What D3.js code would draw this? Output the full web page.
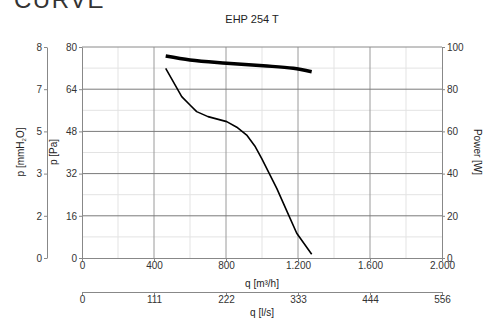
<!DOCTYPE html>
<html>
<head>
<meta charset="utf-8">
<script src="https://cdn.jsdelivr.net/npm/d3@7"></script>
<style>
  body { margin: 0; background: #fff; }
  svg { display: block; font-family: "Liberation Sans", Arial, sans-serif; }
</style>
</head>
<body>
<svg id="chart" width="483" height="318"></svg>
<script>
// data
const flowTicks = [0, 400, 800, 1200, 1600, 2000];
const flowLsLabels = ["0", "111", "222", "333", "444", "556"];
const paTicks = [0, 16, 32, 48, 64, 80];
const mmLabels = ["0", "2", "3", "5", "7", "8"];
const powerTicks = [0, 20, 40, 60, 80, 100];

const pressureQ = [465, 554, 600, 637, 700, 804, 860, 915, 960, 998, 1082, 1140, 1193, 1276];
const pressureP = [71.9, 61.2, 58, 55.5, 53.6, 51.7, 49.6, 46.6, 42.5, 37.8, 26.4, 17.5, 9.4, 1.4];
const powerQ = [465, 600, 804, 1007, 1174, 1276];
const powerW = [95.7, 93.8, 92.3, 91.1, 89.9, 88.3];

const svg = d3.select("#chart");
const plotL = 82, plotR = 442, plotT = 47, plotB = 258;

const x = d3.scaleLinear().domain([0, 2000]).range([plotL, plotR]);
const y = d3.scaleLinear().domain([0, 80]).range([plotB, plotT]);
const yPow = d3.scaleLinear().domain([0, 100]).range([plotB, plotT]);

const fmt = d => d3.format(",")(d).replace(/,/g, ".");

// headings
svg.append("text").attr("x", 14).attr("y", 8)
  .style("font-size", "24px").attr("fill", "#333").attr("letter-spacing", "1.5")
  .text("CURVE");
svg.append("text").attr("x", 252).attr("y", 23).attr("text-anchor", "middle")
  .style("font-size", "11px").attr("fill", "#222").text("EHP 254 T");

// grid
const grid = svg.append("g");
d3.range(200, 2000, 400).forEach(v => {
  grid.append("line").attr("x1", x(v)).attr("x2", x(v)).attr("y1", plotT).attr("y2", plotB)
    .attr("stroke", "#e3e3e3").attr("stroke-width", 1);
});
d3.range(8, 80, 16).forEach(v => {
  grid.append("line").attr("x1", plotL).attr("x2", plotR).attr("y1", y(v)).attr("y2", y(v))
    .attr("stroke", "#e3e3e3").attr("stroke-width", 1);
});
flowTicks.slice(1, -1).forEach(v => {
  grid.append("line").attr("x1", x(v)).attr("x2", x(v)).attr("y1", plotT).attr("y2", plotB)
    .attr("stroke", "#9a9a9a").attr("stroke-width", 1);
});
paTicks.slice(1, -1).forEach(v => {
  grid.append("line").attr("x1", plotL).attr("x2", plotR).attr("y1", y(v)).attr("y2", y(v))
    .attr("stroke", "#7a7a7a").attr("stroke-width", 1);
});
grid.append("line").attr("x1", plotL).attr("x2", plotR).attr("y1", plotT).attr("y2", plotT)
  .attr("stroke", "#8a8a8a");

function styleAxis(g) {
  g.selectAll("path, line").attr("stroke", "#888");
  g.selectAll("text").attr("fill", "#333").style("font-size", "10px")
    .style("font-family", "'Liberation Sans', Arial, sans-serif");
}

// left Pa axis
svg.append("g").attr("transform", `translate(${plotL},0)`)
  .call(d3.axisLeft(y).tickValues(paTicks).tickSize(3).tickSizeOuter(0).tickPadding(2))
  .call(styleAxis);

// left mmH2O axis
svg.append("g").attr("transform", "translate(47,0)")
  .call(d3.axisLeft(y).tickValues(paTicks).tickSize(3).tickSizeOuter(0).tickPadding(2)
    .tickFormat((d, i) => mmLabels[i]))
  .call(styleAxis);

// right power axis
svg.append("g").attr("transform", `translate(${plotR},0)`)
  .call(d3.axisRight(yPow).tickValues(powerTicks).tickSize(3).tickSizeOuter(0).tickPadding(2))
  .call(styleAxis);

// bottom m3/h axis
svg.append("g").attr("transform", `translate(0,${plotB})`)
  .call(d3.axisBottom(x).tickValues(flowTicks).tickSize(3).tickSizeOuter(0).tickPadding(1)
    .tickFormat(fmt))
  .call(styleAxis);

// bottom l/s axis
svg.append("g").attr("transform", "translate(0,292)")
  .call(d3.axisBottom(x).tickValues(flowTicks).tickSize(3).tickSizeOuter(0).tickPadding(1)
    .tickFormat((d, i) => flowLsLabels[i]))
  .call(styleAxis);

// axis titles
const lab = (t, px, py, rot) => svg.append("text")
  .attr("transform", `translate(${px},${py}) rotate(${rot})`)
  .attr("text-anchor", "middle").style("font-size", "10px").attr("fill", "#222").text(t);
lab("q [m³/h]", 262, 287, 0);
lab("q [l/s]", 262, 316, 0);
lab("Power [W]", 474, 152, 90);
lab("p [Pa]", 57, 152, -90);
const mm = svg.append("text")
  .attr("transform", "translate(24,152) rotate(-90)")
  .attr("text-anchor", "middle").style("font-size", "10px").attr("fill", "#222");
mm.append("tspan").text("p [mmH");
mm.append("tspan").text("2").style("font-size", "6px").attr("dy", 2);
mm.append("tspan").text("O]").attr("dy", -2);

// curves
const pLine = d3.line().x(d => x(d[0])).y(d => y(d[1]));
const wLine = d3.line().x(d => x(d[0])).y(d => yPow(d[1])).curve(d3.curveMonotoneX);

svg.append("path").datum(d3.zip(powerQ, powerW)).attr("d", wLine)
  .attr("fill", "none").attr("stroke", "#000").attr("stroke-width", 3.5);
svg.append("path").datum(d3.zip(pressureQ, pressureP)).attr("d", pLine)
  .attr("fill", "none").attr("stroke", "#000").attr("stroke-width", 1.6)
  .attr("stroke-linejoin", "round");
</script>
</body>
</html>
